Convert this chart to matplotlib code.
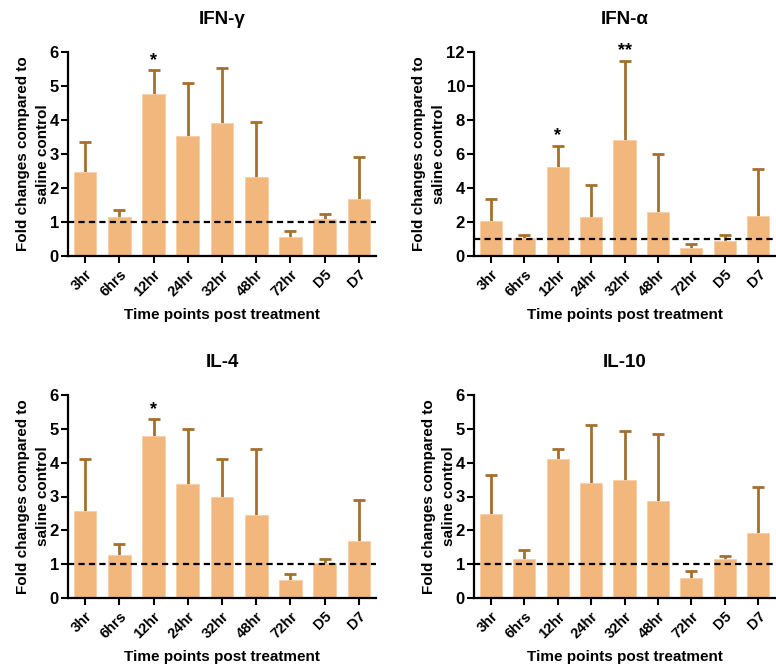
import matplotlib
matplotlib.use("Agg")
import matplotlib.pyplot as plt
import numpy as np

plt.rcParams['font.family'] = ['Liberation Sans', 'DejaVu Sans']
plt.rcParams['font.weight'] = 'bold'

categories = ["3hr", "6hrs", "12hr", "24hr", "32hr", "48hr", "72hr", "D5", "D7"]

ifng_mean = [2.46, 1.14, 4.76, 3.54, 3.92, 2.31, 0.55, 1.10, 1.69]
ifng_upper = [3.35, 1.34, 5.46, 5.10, 5.54, 3.94, 0.75, 1.24, 2.91]

ifna_mean = [2.08, 1.06, 5.22, 2.31, 6.84, 2.57, 0.45, 0.88, 2.33]
ifna_upper = [3.35, 1.25, 6.50, 4.18, 11.50, 6.02, 0.70, 1.25, 5.14]

il4_mean = [2.58, 1.26, 4.78, 3.36, 2.99, 2.46, 0.52, 1.03, 1.69]
il4_upper = [4.12, 1.59, 5.30, 5.00, 4.12, 4.41, 0.71, 1.15, 2.90]

il10_mean = [2.48, 1.15, 4.10, 3.41, 3.49, 2.88, 0.58, 1.15, 1.92]
il10_upper = [3.63, 1.41, 4.40, 5.12, 4.95, 4.85, 0.80, 1.25, 3.29]

titles = ["IFN-γ", "IFN-α", "IL-4", "IL-10"]
y_max = [6, 12, 6, 6]
y_ticks = [[0, 1, 2, 3, 4, 5, 6], [0, 2, 4, 6, 8, 10, 12], [0, 1, 2, 3, 4, 5, 6], [0, 1, 2, 3, 4, 5, 6]]
stars = [{2: "*"}, {2: "*", 4: "**"}, {2: "*"}, {}]
means = [ifng_mean, ifna_mean, il4_mean, il10_mean]
uppers = [ifng_upper, ifna_upper, il4_upper, il10_upper]

bar_color = "#F2B77D"
err_color = "#A3702E"

fig = plt.figure(figsize=(7.76, 6.65), dpi=100)
W, H = 776, 665
positions = [
    (68, 52, 376, 256),
    (474, 52, 775, 256),
    (68, 395, 376, 598),
    (474, 395, 775, 598),
]

for i, (l, t, r, b) in enumerate(positions):
    ax = fig.add_axes([l / W, 1 - b / H, (r - l) / W, (b - t) / H])
    x = np.arange(len(categories))
    m = np.array(means[i])
    u = np.array(uppers[i])
    # error stems (behind bars) and top caps only
    ax.vlines(x, 0, u, color=err_color, linewidth=2, zorder=1)
    ax.plot(x, u, linestyle="none", marker="_", markersize=9, markeredgewidth=2,
            color=err_color, zorder=1)
    ax.bar(x, m, width=0.66, color=bar_color, edgecolor="#F7CFA6", linewidth=0.6, zorder=2)
    ax.axhline(1, color="black", linestyle=(0, (2.8, 1.9)), linewidth=1.6, zorder=4)
    for k, s in stars[i].items():
        ax.text(x[k], u[k] + 0.005 * y_max[i], s, ha="center", va="bottom",
                fontsize=13, fontweight="bold")
    ax.set_xlim(-0.5, 8.5)
    ax.set_ylim(0, y_max[i])
    ax.set_yticks(y_ticks[i])
    ax.set_xticks(x)
    ax.set_xticklabels(categories, rotation=45, ha="right", rotation_mode="anchor",
                       fontsize=10.5, fontweight="bold")
    ax.tick_params(axis="y", labelsize=12, width=1.5, length=5, direction="out", pad=1.5)
    ax.tick_params(axis="x", width=1.5, length=5, direction="out", pad=3)
    for lab in ax.get_yticklabels():
        lab.set_fontweight("bold")
    for sp in ["top", "right"]:
        ax.spines[sp].set_visible(False)
    for sp in ["left", "bottom"]:
        ax.spines[sp].set_linewidth(1.6)
    ax.set_title(titles[i], fontsize=13.5, fontweight="bold", pad=20)
    ax.set_ylabel("Fold changes compared to\nsaline control", fontsize=11, fontweight="bold",
                  labelpad=0, linespacing=1.55)
    ax.set_xlabel("Time points post treatment", fontsize=11, fontweight="bold", labelpad=6.5)

fig.savefig("out.png", dpi=100)
